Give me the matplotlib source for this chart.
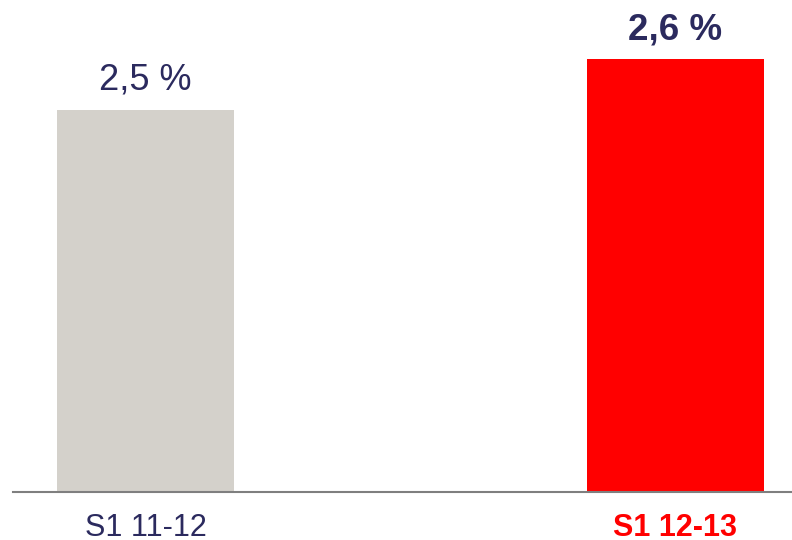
import matplotlib
matplotlib.use('Agg')
import matplotlib.pyplot as plt

# ===================== Dados =====================
categorias = ['S1 11-12', 'S1 12-13']
valores = [2.5, 2.6]
rotulos = ['2,5 %', '2,6 %']
cores = ['#D4D1CB', '#FF0000']

navy = '#2B2A5E'

plt.rcParams['font.family'] = ['Liberation Sans', 'DejaVu Sans']

fig = plt.figure(figsize=(7.92, 5.4), dpi=100)
ax = fig.add_axes([13 / 792, 48 / 540, 779 / 792, 492 / 540])

x = range(len(categorias))
barras = ax.bar(x, valores, width=0.334, color=cores)

# rotulos acima das barras
ax.annotate(rotulos[0], (0, valores[0]), xytext=(0, 9), textcoords='offset points',
            ha='center', va='bottom', fontsize=26, color=navy)
ax.annotate(rotulos[1], (1, valores[1]), xytext=(0, 8), textcoords='offset points',
            ha='center', va='bottom', fontsize=26.5, color=navy, fontweight='bold')

ax.set_ylim(1.754, 2.7155)
ax.set_xlim(-0.25, 1.22)

ax.set_xticks(list(x))
ax.set_xticklabels(categorias, fontsize=22)
ax.tick_params(axis='x', length=0, pad=15)
ticks = ax.get_xticklabels()
ticks[0].set_color(navy)
ticks[1].set_color('#FF0000')
ticks[1].set_fontweight('bold')

ax.set_yticks([])
for lado in ['top', 'right', 'left']:
    ax.spines[lado].set_visible(False)
ax.spines['bottom'].set_color('#7F7F7F')
ax.spines['bottom'].set_linewidth(1.5)

fig.savefig('out.png', dpi=100)
